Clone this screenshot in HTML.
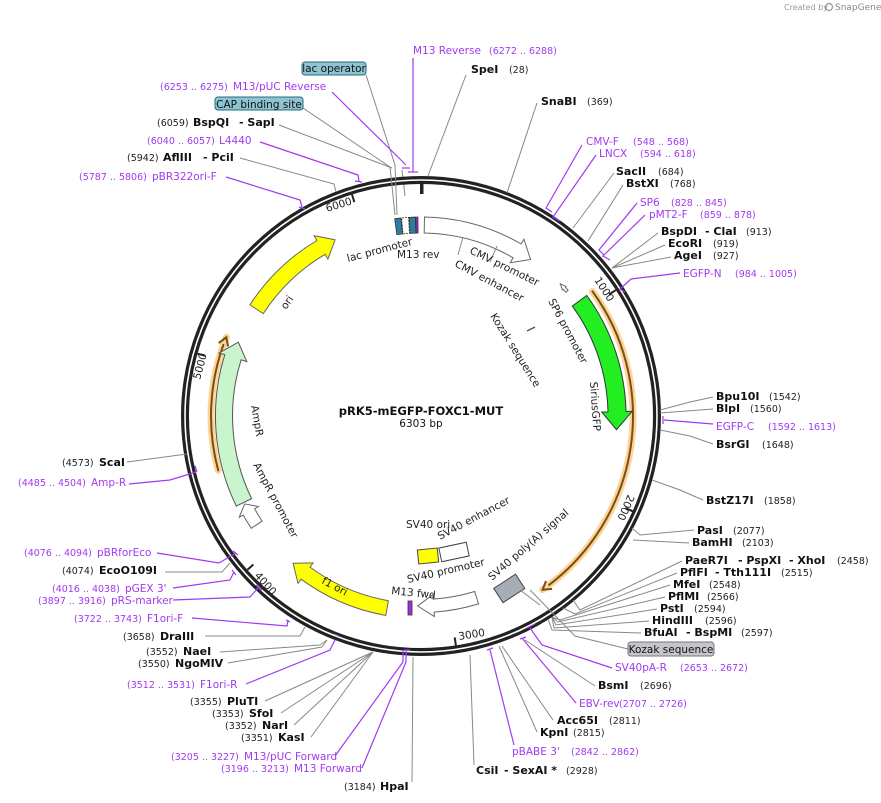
<!DOCTYPE html>
<html><head><meta charset="utf-8"><style>
html,body{margin:0;padding:0;background:#fff;width:881px;height:803px;overflow:hidden}
svg{display:block}
text{font-family:"DejaVu Sans","Liberation Sans",sans-serif;font-size:10.5px;fill:#111}
.b{font-weight:bold;font-size:11px}
.c{font-size:9.5px;fill:#222}
.p{fill:#a03af0;font-size:10.5px}
.pc{fill:#a03af0;font-size:9.5px}
.g{stroke:#888;stroke-width:1;fill:none}
.pl{stroke:#a03af0;stroke-width:1.2;fill:none}
.in{font-size:10.5px;fill:#222}
</style></head><body>
<svg id="s" width="881" height="803" viewBox="0 0 881 803" xmlns="http://www.w3.org/2000/svg">
<text x="784" y="10" style="font-size:8px;fill:#999">Created by</text>
<circle cx="829" cy="7" r="3.5" fill="none" stroke="#999" stroke-width="1.2"/>
<text x="835" y="10" style="font-size:9px;fill:#888">SnapGene</text>

<g id="shapes"></g>

<!-- ring -->
<circle cx="421" cy="416" r="236" fill="none" stroke="#222" stroke-width="8"/>
<circle cx="421" cy="416" r="236" fill="none" stroke="#fff" stroke-width="1.6"/>
<rect x="420" y="181" width="3.5" height="13" fill="#222"/>

<!-- leader lines -->
<g class="g">
<polyline points="466,75 428,176"/>
<polyline points="366,75 395,165 397,215"/>
<polyline points="303,108 390,167 395,215"/>
<polyline points="279,125 392,168"/>
<polyline points="240,158 334,184 336,192"/>
<polyline points="537,103 507,193"/>
<polyline points="614,173 573,228"/>
<polyline points="623,185 588,241"/>
<polyline points="658,233 612,268"/>
<polyline points="665,245 612,268"/>
<polyline points="671,257 612,268"/>
<polyline points="713,397 690,402 660,410"/>
<polyline points="713,409 660,413"/>
<polyline points="713,444 690,436 660,430"/>
<polyline points="703,500 680,490 652,480"/>
<polyline points="694,530 640,535 632,528"/>
<polyline points="689,543 633,540"/>
<polyline points="682,561 580,610 573,600"/>
<polyline points="677,573 575,614 563,608"/>
<polyline points="670,585 560,620 552,617"/>
<polyline points="665,597 558,622 552,617"/>
<polyline points="657,609 556,625 552,617"/>
<polyline points="649,621 554,628 552,617"/>
<polyline points="641,633 552,630 548,619"/>
<polyline points="628,649 575,636 530,590"/>
<polyline points="595,686 525,640"/>
<polyline points="553,720 502,646"/>
<polyline points="537,732 499,646"/>
<polyline points="474,765 470,655"/>
<polyline points="412,782 413,657"/>
<polyline points="311,737 373,652"/>
<polyline points="294,725 373,652"/>
<polyline points="281,713 373,652"/>
<polyline points="265,701 373,652"/>
<polyline points="228,663 322,647 327,640"/>
<polyline points="220,652 320,645 327,640"/>
<polyline points="205,636 300,636 305,627"/>
<polyline points="165,572 222,572 230,563"/>
<polyline points="127,462 187,454"/>
<polyline points="540,605 520,590"/>
</g>
<g class="pl">
<polyline points="413,58 413,172"/><line x1="408" y1="172" x2="418" y2="172"/>
<polyline points="332,92 406,165"/><line x1="402" y1="168" x2="410" y2="168"/>
<polyline points="260,142 358,175 359,181"/><line x1="355" y1="181" x2="362" y2="182"/>
<polyline points="226,177 300,200 302,207"/><line x1="299" y1="207" x2="305" y2="209"/>
<polyline points="582,145 546,208 552,212"/>
<polyline points="596,155 553,217 560,221"/>
<polyline points="637,203 599,250 604,255"/>
<polyline points="645,215 603,256 610,260"/>
<polyline points="680,273 631,279 620,289 625,292"/>
<polyline points="713,424 664,420"/><line x1="663" y1="416" x2="663" y2="424"/>
<polyline points="612,668 542,645 530,628"/><line x1="527" y1="628" x2="535" y2="624"/>
<polyline points="576,703 522,638"/><line x1="520" y1="639" x2="526" y2="637"/>
<polyline points="514,745 490,650"/><line x1="487" y1="650" x2="493" y2="648"/>
<polyline points="362,768 406,662 406,650"/><line x1="404" y1="650" x2="410" y2="650"/>
<polyline points="335,756 403,662 403,650"/>
<polyline points="246,684 330,650 335,640"/><line x1="334" y1="634" x2="339" y2="636"/>
<polyline points="192,618 287,626 288,620"/><line x1="286" y1="620" x2="290" y2="622"/>
<polyline points="173,600 250,597 258,588"/><line x1="256" y1="585" x2="262" y2="590"/>
<polyline points="173,588 230,580 234,572"/><line x1="232" y1="570" x2="236" y2="575"/>
<polyline points="157,553 219,563 236,553"/><line x1="233" y1="551" x2="238" y2="555"/>
<polyline points="129,484 170,480 196,472"/><line x1="195" y1="466" x2="197" y2="472"/>
</g>

<!-- top labels -->
<text x="413" y="54" class="p">M13 Reverse</text><text x="489" y="54" class="pc">(6272 .. 6288)</text>
<text x="471" y="73" class="b">SpeI</text><text x="509" y="73" class="c">(28)</text>
<rect x="302" y="62" width="64" height="13" rx="3" fill="#8ec4d2" stroke="#2a6a80"/>
<text x="334" y="72" text-anchor="middle" style="font-size:10.5px">lac operator</text>
<text x="160" y="90" class="pc">(6253 .. 6275)</text><text x="233" y="90" class="p">M13/pUC Reverse</text>
<rect x="215" y="97" width="88" height="13" rx="3" fill="#8ec4d2" stroke="#2a6a80"/>
<text x="259" y="108" text-anchor="middle" style="font-size:10.5px">CAP binding site</text>
<text x="541" y="105" class="b">SnaBI</text><text x="587" y="105" class="c">(369)</text>
<text x="157" y="126" class="c">(6059)</text><text x="193" y="126" class="b">BspQI</text><text x="239" y="126" class="b">- SapI</text>
<text x="147" y="144" class="pc">(6040 .. 6057)</text><text x="219" y="144" class="p">L4440</text>
<text x="586" y="145" class="p">CMV-F</text><text x="633" y="145" class="pc">(548 .. 568)</text>
<text x="127" y="161" class="c">(5942)</text><text x="163" y="161" class="b">AflIII</text><text x="203" y="161" class="b">- PciI</text>
<text x="599" y="157" class="p">LNCX</text><text x="640" y="157" class="pc">(594 .. 618)</text>
<text x="616" y="175" class="b">SacII</text><text x="658" y="175" class="c">(684)</text>
<text x="79" y="180" class="pc">(5787 .. 5806)</text><text x="152" y="180" class="p">pBR322ori-F</text>
<text x="626" y="187" class="b">BstXI</text><text x="670" y="187" class="c">(768)</text>
<text x="640" y="206" class="p">SP6</text><text x="671" y="206" class="pc">(828 .. 845)</text>
<text x="649" y="218" class="p">pMT2-F</text><text x="700" y="218" class="pc">(859 .. 878)</text>
<text x="661" y="235" class="b">BspDI</text><text x="705" y="235" class="b">- ClaI</text><text x="746" y="235" class="c">(913)</text>
<text x="668" y="247" class="b">EcoRI</text><text x="713" y="247" class="c">(919)</text>
<text x="674" y="259" class="b">AgeI</text><text x="713" y="259" class="c">(927)</text>
<text x="683" y="277" class="p">EGFP-N</text><text x="735" y="277" class="pc">(984 .. 1005)</text>
<!-- right -->
<text x="716" y="400" class="b">Bpu10I</text><text x="769" y="400" class="c">(1542)</text>
<text x="716" y="412" class="b">BlpI</text><text x="750" y="412" class="c">(1560)</text>
<text x="716" y="430" class="p">EGFP-C</text><text x="768" y="430" class="pc">(1592 .. 1613)</text>
<text x="716" y="448" class="b">BsrGI</text><text x="762" y="448" class="c">(1648)</text>
<text x="706" y="504" class="b">BstZ17I</text><text x="764" y="504" class="c">(1858)</text>
<text x="697" y="534" class="b">PasI</text><text x="733" y="534" class="c">(2077)</text>
<text x="692" y="546" class="b">BamHI</text><text x="742" y="546" class="c">(2103)</text>
<text x="685" y="564" class="b">PaeR7I</text><text x="738" y="564" class="b">- PspXI</text><text x="789" y="564" class="b">- XhoI</text><text x="837" y="564" class="c">(2458)</text>
<text x="680" y="576" class="b">PflFI</text><text x="715" y="576" class="b">- Tth111I</text><text x="781" y="576" class="c">(2515)</text>
<text x="673" y="588" class="b">MfeI</text><text x="709" y="588" class="c">(2548)</text>
<text x="668" y="600" class="b">PflMI</text><text x="707" y="600" class="c">(2566)</text>
<text x="660" y="612" class="b">PstI</text><text x="694" y="612" class="c">(2594)</text>
<text x="652" y="624" class="b">HindIII</text><text x="705" y="624" class="c">(2596)</text>
<text x="644" y="636" class="b">BfuAI</text><text x="686" y="636" class="b">- BspMI</text><text x="741" y="636" class="c">(2597)</text>
<rect x="628" y="642" width="86" height="14" rx="3" fill="#c4c6cc" stroke="#777"/>
<text x="671" y="653" text-anchor="middle" style="font-size:10.5px">Kozak sequence</text>
<text x="615" y="671" class="p">SV40pA-R</text><text x="680" y="671" class="pc">(2653 .. 2672)</text>
<text x="598" y="689" class="b">BsmI</text><text x="640" y="689" class="c">(2696)</text>
<text x="579" y="707" class="p">EBV-rev</text><text x="619" y="707" class="pc">(2707 .. 2726)</text>
<text x="557" y="724" class="b">Acc65I</text><text x="609" y="724" class="c">(2811)</text>
<text x="540" y="736" class="b">KpnI</text><text x="573" y="736" class="c">(2815)</text>
<text x="512" y="755" class="p">pBABE 3'</text><text x="571" y="755" class="pc">(2842 .. 2862)</text>
<text x="476" y="774" class="b">CsiI</text><text x="504" y="774" class="b">- SexAI *</text><text x="566" y="774" class="c">(2928)</text>
<!-- bottom-left -->
<text x="344" y="790" class="c">(3184)</text><text x="380" y="790" class="b">HpaI</text>
<text x="221" y="772" class="pc">(3196 .. 3213)</text><text x="294" y="772" class="p">M13 Forward</text>
<text x="171" y="760" class="pc">(3205 .. 3227)</text><text x="244" y="760" class="p">M13/pUC Forward</text>
<text x="241" y="741" class="c">(3351)</text><text x="278" y="741" class="b">KasI</text>
<text x="225" y="729" class="c">(3352)</text><text x="262" y="729" class="b">NarI</text>
<text x="212" y="717" class="c">(3353)</text><text x="249" y="717" class="b">SfoI</text>
<text x="190" y="705" class="c">(3355)</text><text x="227" y="705" class="b">PluTI</text>
<text x="127" y="688" class="pc">(3512 .. 3531)</text><text x="200" y="688" class="p">F1ori-R</text>
<text x="138" y="667" class="c">(3550)</text><text x="175" y="667" class="b">NgoMIV</text>
<text x="146" y="655" class="c">(3552)</text><text x="183" y="655" class="b">NaeI</text>
<text x="123" y="640" class="c">(3658)</text><text x="160" y="640" class="b">DraIII</text>
<text x="74" y="622" class="pc">(3722 .. 3743)</text><text x="147" y="622" class="p">F1ori-F</text>
<text x="38" y="604" class="pc">(3897 .. 3916)</text><text x="111" y="604" class="p">pRS-marker</text>
<text x="52" y="592" class="pc">(4016 .. 4038)</text><text x="125" y="592" class="p">pGEX 3'</text>
<text x="62" y="574" class="c">(4074)</text><text x="99" y="574" class="b">EcoO109I</text>
<text x="24" y="556" class="pc">(4076 .. 4094)</text><text x="97" y="556" class="p">pBRforEco</text>
<text x="18" y="486" class="pc">(4485 .. 4504)</text><text x="91" y="486" class="p">Amp-R</text>
<text x="62" y="466" class="c">(4573)</text><text x="99" y="466" class="b">ScaI</text>

<!-- tick labels -->
<text transform="translate(594,280) rotate(57)" class="in">1000</text>
<text transform="translate(628,494) rotate(114)" class="in">2000</text>
<text transform="translate(459,640) rotate(-9)" class="in">3000</text>
<text transform="translate(254,576) rotate(48)" class="in">4000</text>
<text transform="translate(200,380) rotate(-75)" class="in">5000</text>
<text transform="translate(327,212) rotate(-17)" class="in">6000</text>

<!-- center -->
<text x="421" y="415" text-anchor="middle" style="font-weight:bold;font-size:11.5px">pRK5-mEGFP-FOXC1-MUT</text>
<text x="421" y="427" text-anchor="middle" style="font-size:10.5px">6303 bp</text>

<!-- inner labels -->
<text transform="translate(348,262) rotate(-15)" class="in">lac promoter</text>
<text x="397" y="258" class="in">M13 rev</text>
<text transform="translate(469,253) rotate(26)" class="in">CMV promoter</text>
<text transform="translate(454,266) rotate(28)" class="in">CMV enhancer</text>
<text transform="translate(548,301) rotate(62)" class="in">SP6 promoter</text>
<text transform="translate(490,316) rotate(58)" class="in">Kozak sequence</text>
<text transform="translate(590,382) rotate(86)" class="in">SiriusGFP</text>
<text transform="translate(251,406) rotate(80)" class="in">AmpR</text>
<text transform="translate(253,465) rotate(62)" class="in">AmpR promoter</text>
<text transform="translate(286,310) rotate(-55)" class="in">ori</text>
<text transform="translate(321,583) rotate(28)" class="in">f1 ori</text>
<text x="406" y="528" class="in">SV40 ori</text>
<text transform="translate(440,540) rotate(-28)" class="in">SV40 enhancer</text>
<text transform="translate(408,583) rotate(-13)" class="in">SV40 promoter</text>
<text transform="translate(391,594) rotate(6)" class="in">M13 fwd</text>
<text transform="translate(492,581) rotate(-41)" class="in">SV40 poly(A) signal</text>
</svg>
<script>
(function(){
var cx=421,cy=416,ns="http://www.w3.org/2000/svg",g=document.getElementById("shapes");
function P(a,r){a=a*Math.PI/180;return [cx+r*Math.sin(a),cy-r*Math.cos(a)];}
function f(p){return p[0].toFixed(1)+","+p[1].toFixed(1);}
function add(tag,attrs){var e=document.createElementNS(ns,tag);for(var k in attrs)e.setAttribute(k,attrs[k]);g.appendChild(e);return e;}
function arrow(s,e,r,w,fill,stroke,hl){
 var d=e>s?1:-1; hl=hl||14; var hd=hl/r*180/Math.PI; var hb=e-d*hd;
 var ro=r+w/2,ri=r-w/2,hw=w*0.35;
 var sw=d>0?1:0, lg=Math.abs(hb-s)>180?1:0;
 var p="M"+f(P(s,ro))+" A"+ro+","+ro+" 0 "+lg+" "+sw+" "+f(P(hb,ro))+" L"+f(P(hb,ro+hw))+" L"+f(P(e,r))+" L"+f(P(hb,ri-hw))+" L"+f(P(hb,ri))+" A"+ri+","+ri+" 0 "+lg+" "+(1-sw)+" "+f(P(s,ri))+" Z";
 add("path",{d:p,fill:fill,stroke:stroke,"stroke-width":1});
}
function arc(s,e,r,col,wd){
 var sw=e>s?1:0,lg=Math.abs(e-s)>180?1:0;
 add("path",{d:"M"+f(P(s,r))+" A"+r+","+r+" 0 "+lg+" "+sw+" "+f(P(e,r)),fill:"none",stroke:col,"stroke-width":wd,"stroke-linecap":"round"});
}
function oarr(s,e,r){
 var d=e>s?1:-1,hd=8/r*180/Math.PI,hb=e-d*hd;
 arc(s,e,r,"#fcd49a",7);
 arc(s,hb,r,"#7a5010",2);
 add("path",{d:"M"+f(P(hb,r+5))+" L"+f(P(e,r))+" L"+f(P(hb,r-5)),fill:"none",stroke:"#7a5010","stroke-width":2});
}
oarr(54,145,212);
oarr(255,292,210);
arrow(1,35,191,16,"#fff","#666",16);
arrow(54,94,196,18,"#22ee22","#333",18);
arrow(244,292,197,17,"#c8f5cc","#555",16);
arrow(236.5,243.5,197,13,"#fff","#666",9);
arrow(303,334,196,16,"#ffff00","#666",16);
arrow(190,221,195,15,"#ffff00","#666",16);
arrow(163,181,190,13,"#fff","#666",16);
arrow(49.5,46.5,192,3,"#fff","#666",6);
var boxes=[[-7.6,-5.8,"#2a7f9e"],[-5.6,-3.6,"#fff"],[-3.4,-1.6,"#2a7f9e"],[-1.5,-0.9,"#9b30e0"]];
boxes.forEach(function(b){var a=P(b[0],183),c=P(b[1],183),d2=P(b[1],199),e2=P(b[0],199);
 add("path",{d:"M"+f(a)+" L"+f(c)+" L"+f(d2)+" L"+f(e2)+" Z",fill:b[2],stroke:"#333","stroke-width":0.8,"stroke-dasharray":b[2]=="#fff"?"2,1":"none"});});
add("rect",{x:418,y:549,width:20,height:14,fill:"#ffff00",stroke:"#444",transform:"rotate(-6 428 556)"});
add("rect",{x:440,y:545,width:28,height:14,fill:"#fff",stroke:"#444",transform:"rotate(-12 454 552)"});
add("rect",{x:496,y:580,width:26,height:17,fill:"#a8acb4",stroke:"#444",transform:"rotate(-33 509 588)"});
add("rect",{x:408,y:601,width:4,height:14,fill:"#9b30e0",stroke:"#333","stroke-width":0.8});
add("line",{x1:527,y1:331,x2:535,y2:327,stroke:"#555","stroke-width":1.5});
[1000,2000,3000,4000,5000,6000].forEach(function(n){var a=n/6303*360;var p1=P(a,232),p2=P(a,224);
 add("line",{x1:p1[0],y1:p1[1],x2:p2[0],y2:p2[1],stroke:"#222","stroke-width":2});});
add("polyline",{points:"405,196 402,170",fill:"none",stroke:"#888"});
add("polyline",{points:"463,237 458,255",fill:"none",stroke:"#888"});
add("polyline",{points:"497,246 490,262",fill:"none",stroke:"#888"});
})();
</script>
</body></html>
